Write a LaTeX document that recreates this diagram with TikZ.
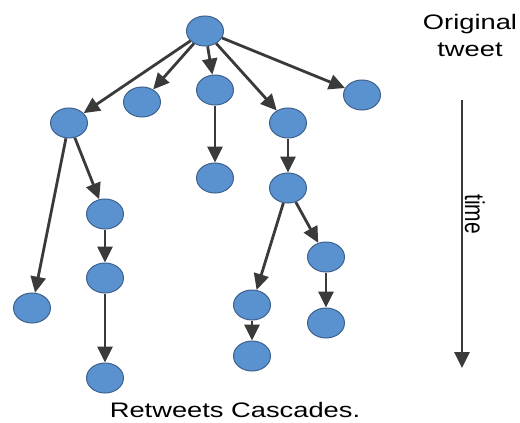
\documentclass[tikz,border=0pt]{standalone}
\usepackage{fontspec}
\setmainfont{Liberation Sans}
\usepackage{graphicx}
\usetikzlibrary{arrows.meta,shapes.geometric}
\definecolor{userfill}{RGB}{90,146,208}
\definecolor{userline}{RGB}{62,96,140}
\definecolor{edgegray}{RGB}{58,58,58}
\tikzset{
  user/.style={ellipse,draw=userline,line width=1pt,fill=userfill,
    minimum width=37pt,minimum height=30pt,inner sep=0pt},
  share/.style={draw=edgegray,line width=2.8pt,
    -{Triangle[length=16pt,width=15pt]}},
  lbl/.style={font=\fontsize{21}{27}\selectfont,text=black,inner sep=0pt}
}
\begin{document}
\begin{tikzpicture}[x=1pt,y=-1pt]
  \useasboundingbox (0,0) rectangle (520,423);
  % original tweet and first retweets
  \node[user] (root) at (205,31) {};
  \node[user] (n1) at (69,123) {};
  \node[user] (n2) at (142,102) {};
  \node[user] (n3) at (215,90) {};
  \node[user] (n4) at (288,123) {};
  \node[user] (n5) at (362,95) {};
  % later retweets
  \node[user] (c1) at (215,178) {};
  \node[user] (a1) at (32,308) {};
  \node[user] (a2) at (105,214) {};
  \node[user] (a3) at (105,278) {};
  \node[user] (a4) at (105,378) {};
  \node[user] (d1) at (288,188) {};
  \node[user] (d2) at (252,305) {};
  \node[user] (d3) at (252,356) {};
  \node[user] (d4) at (326,257) {};
  \node[user] (d5) at (326,323) {};
  \foreach \t in {n1,n2,n3,n4,n5} \draw[share] (root) -- (\t);
  \draw[share] (n3) -- (c1);
  \draw[share] (n1) -- (a1);
  \draw[share] (n1) -- (a2);
  \draw[share] (a2) -- (a3);
  \draw[share] (a3) -- (a4);
  \draw[share] (n4) -- (d1);
  \draw[share] (d1) -- (d2);
  \draw[share] (d2) -- (d3);
  \draw[share] (d1) -- (d4);
  \draw[share] (d4) -- (d5);
  % time axis
  \coordinate (tstart) at (462,100);
  \coordinate (tend) at (462,368);
  \draw[share] (tstart) -- (tend);
  \node[lbl,rotate=-90] (time) at (475,214) {\scalebox{1}[1.3]{time}};
  \node[lbl,align=center] (orig) at (470,35)
    {\scalebox{1.3}[1]{Original}\\\scalebox{1.3}[1]{tweet}};
  \node[lbl,anchor=base] (title) at (235,417)
    {\scalebox{1.3}[1]{Retweets Cascades.}};
\end{tikzpicture}
\end{document}
